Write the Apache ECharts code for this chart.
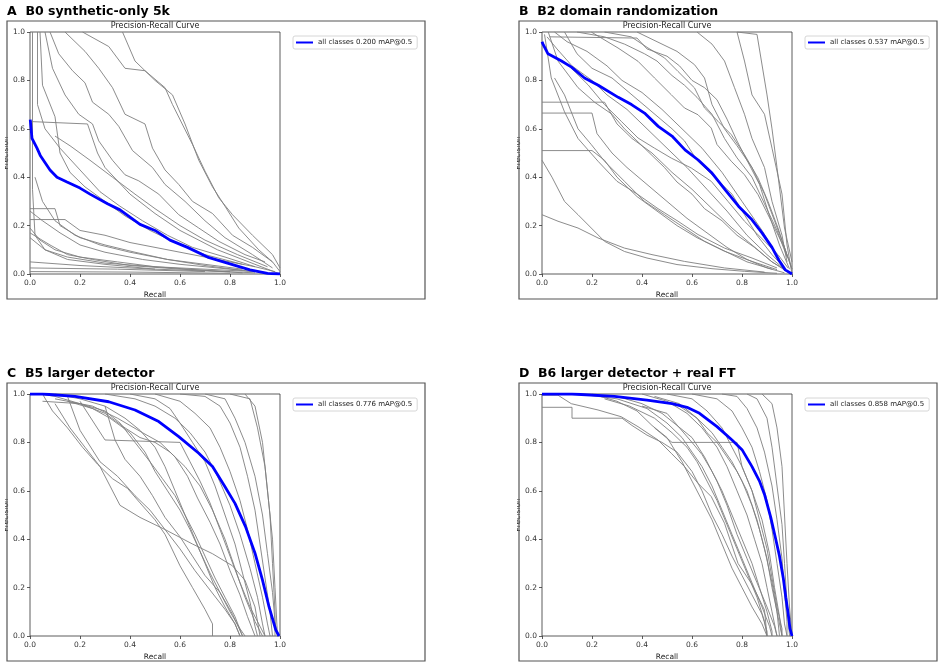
<!DOCTYPE html>
<html>
<head>
<meta charset="utf-8">
<title>Precision-Recall curves</title>
<script src="https://cdn.jsdelivr.net/npm/echarts@6/dist/echarts.min.js"></script>
<style>
  html, body { margin: 0; padding: 0; background: #fff; }
  #main { width: 945px; height: 668px; }
</style>
</head>
<body>
<div id="main"></div>
<script>
// panel titles and mAP values
var panelTitles = ['A  B0 synthetic-only 5k', 'B  B2 domain randomization', 'C  B5 larger detector', 'D  B6 larger detector + real FT'];
var mapValues = ['0.200', '0.537', '0.776', '0.858'];

// mean curve ("all classes") per panel, [recall, precision]
var blueA = [[0.001,0.638],[0.008,0.56],[0.028,0.52],[0.041,0.49],[0.08,0.43],[0.108,0.40],[0.148,0.38],[0.2,0.355],[0.24,0.33],[0.31,0.29],[0.36,0.265],[0.44,0.205],[0.5,0.18],[0.56,0.14],[0.63,0.11],[0.71,0.07],[0.79,0.045],[0.88,0.017],[0.95,0.003],[1.0,0.0]];
var blueB = [[0.0,0.96],[0.004,0.95],[0.024,0.91],[0.078,0.88],[0.118,0.855],[0.17,0.81],[0.225,0.78],[0.305,0.73],[0.358,0.70],[0.41,0.665],[0.465,0.61],[0.52,0.57],[0.572,0.513],[0.626,0.47],[0.68,0.417],[0.733,0.348],[0.786,0.28],[0.84,0.224],[0.88,0.17],[0.92,0.11],[0.947,0.058],[0.973,0.017],[1.0,0.0]];
var blueC = [[0.0,1.0],[0.05,1.0],[0.18,0.99],[0.315,0.968],[0.42,0.934],[0.515,0.886],[0.595,0.824],[0.675,0.755],[0.73,0.70],[0.78,0.617],[0.82,0.548],[0.862,0.452],[0.9,0.342],[0.93,0.231],[0.956,0.121],[0.983,0.025],[0.996,0.0]];
var blueD = [[0.0,1.0],[0.12,1.0],[0.29,0.99],[0.42,0.975],[0.52,0.96],[0.58,0.945],[0.63,0.92],[0.7,0.865],[0.76,0.81],[0.8,0.77],[0.84,0.70],[0.87,0.64],[0.89,0.585],[0.915,0.49],[0.935,0.40],[0.95,0.33],[0.965,0.24],[0.975,0.16],[0.985,0.09],[0.992,0.03],[1.0,0.0]];

// per-class curves (gray)
var grayA = [
  [[0.37,1.0],[0.42,0.88],[0.5,0.8],[0.57,0.74],[0.62,0.62],[0.675,0.47],[0.73,0.36],[0.78,0.28],[0.835,0.19],[0.915,0.10],[0.97,0.05],[1.0,0.01]],
  [[0.21,1.0],[0.315,0.94],[0.38,0.85],[0.46,0.84],[0.54,0.77],[0.57,0.70],[0.65,0.535],[0.70,0.425],[0.755,0.315],[0.81,0.245],[0.89,0.16],[0.97,0.08],[1.0,0.025]],
  [[0.14,1.0],[0.22,0.92],[0.275,0.85],[0.33,0.77],[0.38,0.66],[0.46,0.62],[0.49,0.52],[0.54,0.43],[0.595,0.37],[0.65,0.30],[0.73,0.25],[0.81,0.16],[0.89,0.11],[0.97,0.05]],
  [[0.08,1.0],[0.115,0.91],[0.17,0.84],[0.22,0.79],[0.25,0.71],[0.315,0.66],[0.355,0.61],[0.41,0.51],[0.49,0.44],[0.54,0.37],[0.62,0.30],[0.70,0.22],[0.78,0.15],[0.89,0.08],[0.97,0.025]],
  [[0.06,1.0],[0.09,0.85],[0.14,0.74],[0.195,0.66],[0.25,0.62],[0.275,0.55],[0.33,0.47],[0.38,0.41],[0.435,0.385],[0.515,0.33],[0.595,0.245],[0.675,0.19],[0.755,0.135],[0.86,0.08],[0.94,0.05]],
  [[0.0,0.63],[0.23,0.62],[0.27,0.50],[0.30,0.44],[0.4,0.33],[0.5,0.25],[0.6,0.18],[0.75,0.10],[0.9,0.04],[1.0,0.0]],
  [[0.03,1.0],[0.03,0.70],[0.06,0.60],[0.12,0.52],[0.2,0.43],[0.28,0.34],[0.36,0.28],[0.45,0.22],[0.55,0.16],[0.65,0.11],[0.78,0.07],[0.9,0.03]],
  [[0.0,0.26],[0.05,0.22],[0.12,0.17],[0.2,0.12],[0.3,0.09],[0.45,0.06],[0.6,0.04],[0.8,0.02],[0.95,0.005]],
  [[0.0,0.19],[0.04,0.14],[0.1,0.10],[0.2,0.07],[0.35,0.05],[0.5,0.03],[0.7,0.015],[0.85,0.005]],
  [[0.0,0.17],[0.08,0.12],[0.15,0.08],[0.25,0.06],[0.4,0.035],[0.6,0.02],[0.8,0.01]],
  [[0.0,0.225],[0.14,0.225],[0.2,0.18],[0.3,0.16],[0.4,0.13],[0.5,0.11],[0.6,0.09],[0.7,0.07],[0.8,0.05],[0.9,0.03],[0.98,0.01]],
  [[0.0,0.27],[0.1,0.27],[0.12,0.20],[0.2,0.15],[0.3,0.12],[0.42,0.09],[0.55,0.06],[0.7,0.035],[0.85,0.015]],
  [[0.0,0.025],[0.35,0.02],[0.7,0.01]],
  [[0.0,0.01],[0.4,0.008],[0.8,0.003]],
  [[0.0,0.05],[0.2,0.035],[0.5,0.02],[0.9,0.005]],
  [[0.01,1.0],[0.01,0.35],[0.02,0.16],[0.06,0.1],[0.15,0.06],[0.3,0.04],[0.5,0.02]],
  [[0.04,1.0],[0.05,0.78],[0.1,0.65],[0.12,0.5],[0.16,0.42],[0.22,0.36],[0.3,0.30],[0.38,0.24],[0.48,0.18],[0.58,0.13],[0.7,0.08],[0.85,0.04]],
  [[0.1,0.57],[0.16,0.53],[0.24,0.47],[0.33,0.40],[0.42,0.33],[0.5,0.27],[0.6,0.2],[0.7,0.14],[0.83,0.08],[0.95,0.03]],
  [[0.02,0.4],[0.05,0.3],[0.1,0.22],[0.18,0.16],[0.28,0.12],[0.4,0.09],[0.55,0.06],[0.7,0.04],[0.85,0.02]],
  [[0.0,0.15],[0.06,0.1],[0.15,0.07],[0.3,0.045],[0.5,0.03],[0.7,0.02],[0.9,0.01]]
];
var grayB = [
  [[0.78,1.0],[0.86,0.99],[0.9,0.74],[0.92,0.60],[0.94,0.44],[0.97,0.19],[1.0,0.05]],
  [[0.78,1.0],[0.81,0.88],[0.84,0.74],[0.89,0.66],[0.92,0.52],[0.96,0.33],[0.98,0.12],[1.0,0.0]],
  [[0.62,1.0],[0.68,0.95],[0.73,0.88],[0.77,0.77],[0.81,0.66],[0.84,0.56],[0.89,0.44],[0.92,0.30],[0.96,0.16],[0.98,0.05]],
  [[0.38,1.0],[0.46,0.96],[0.54,0.92],[0.61,0.865],[0.65,0.81],[0.68,0.70],[0.73,0.60],[0.78,0.53],[0.84,0.44],[0.89,0.33],[0.93,0.22],[0.97,0.11],[1.0,0.02]],
  [[0.14,1.0],[0.25,0.98],[0.33,0.95],[0.41,0.91],[0.46,0.88],[0.52,0.82],[0.57,0.78],[0.62,0.73],[0.68,0.66],[0.73,0.56],[0.78,0.48],[0.84,0.40],[0.89,0.29],[0.94,0.18],[0.98,0.07]],
  [[0.09,1.0],[0.14,0.91],[0.20,0.85],[0.28,0.81],[0.36,0.74],[0.44,0.67],[0.52,0.60],[0.57,0.55],[0.62,0.47],[0.69,0.40],[0.76,0.33],[0.81,0.245],[0.86,0.16],[0.92,0.08],[0.97,0.025]],
  [[0.025,1.0],[0.064,0.88],[0.144,0.77],[0.21,0.71],[0.28,0.66],[0.33,0.60],[0.38,0.55],[0.44,0.49],[0.49,0.44],[0.54,0.38],[0.6,0.33],[0.65,0.27],[0.72,0.22],[0.78,0.16],[0.85,0.11],[0.92,0.05],[0.97,0.02]],
  [[0.0,0.665],[0.2,0.665],[0.22,0.58],[0.28,0.5],[0.34,0.44],[0.42,0.37],[0.5,0.30],[0.58,0.23],[0.66,0.17],[0.74,0.11],[0.82,0.06],[0.9,0.025],[0.97,0.005]],
  [[0.0,0.51],[0.2,0.51],[0.25,0.47],[0.3,0.40],[0.38,0.32],[0.46,0.26],[0.54,0.2],[0.62,0.15],[0.72,0.1],[0.82,0.05],[0.92,0.02]],
  [[0.0,0.71],[0.25,0.71],[0.3,0.62],[0.36,0.56],[0.44,0.5],[0.52,0.42],[0.6,0.35],[0.68,0.27],[0.76,0.19],[0.84,0.12],[0.92,0.05],[0.98,0.01]],
  [[0.0,0.47],[0.04,0.40],[0.09,0.30],[0.144,0.245],[0.197,0.19],[0.25,0.135],[0.33,0.093],[0.42,0.066],[0.54,0.039],[0.68,0.022],[0.81,0.011],[0.94,0.003]],
  [[0.0,0.245],[0.064,0.218],[0.144,0.19],[0.224,0.149],[0.33,0.107],[0.44,0.08],[0.57,0.052],[0.73,0.025],[0.89,0.008]],
  [[0.05,0.81],[0.09,0.74],[0.144,0.60],[0.197,0.535],[0.25,0.466],[0.33,0.383],[0.41,0.30],[0.49,0.245],[0.57,0.19],[0.65,0.135],[0.73,0.094],[0.84,0.052],[0.94,0.018]],
  [[0.01,0.99],[0.037,0.81],[0.09,0.67],[0.144,0.56],[0.224,0.466],[0.30,0.383],[0.384,0.328],[0.464,0.27],[0.544,0.218],[0.624,0.163],[0.73,0.107],[0.84,0.066],[0.94,0.025]],
  [[0.197,1.0],[0.304,0.934],[0.384,0.879],[0.45,0.81],[0.517,0.741],[0.57,0.686],[0.624,0.658],[0.677,0.603],[0.70,0.535],[0.757,0.466],[0.81,0.41],[0.864,0.328],[0.917,0.218],[0.97,0.107],[1.0,0.02]],
  [[0.25,1.0],[0.357,0.98],[0.424,0.934],[0.49,0.893],[0.544,0.837],[0.61,0.769],[0.65,0.686],[0.704,0.631],[0.757,0.576],[0.81,0.493],[0.864,0.397],[0.904,0.30],[0.944,0.19],[0.984,0.066]],
  [[0.117,0.851],[0.184,0.782],[0.25,0.70],[0.317,0.631],[0.384,0.562],[0.45,0.52],[0.517,0.479],[0.597,0.438],[0.677,0.383],[0.744,0.30],[0.81,0.218],[0.877,0.149],[0.944,0.08],[0.984,0.025]],
  [[0.03,0.98],[0.38,0.975],[0.42,0.93],[0.5,0.90],[0.55,0.86],[0.6,0.80],[0.65,0.77],[0.7,0.72],[0.74,0.64],[0.78,0.55],[0.82,0.47],[0.87,0.37],[0.91,0.24],[0.95,0.12],[0.99,0.02]],
  [[0.05,1.0],[0.1,0.96],[0.18,0.92],[0.26,0.86],[0.32,0.8],[0.4,0.75],[0.48,0.68],[0.56,0.6],[0.64,0.52],[0.72,0.42],[0.8,0.3],[0.88,0.18],[0.95,0.06]],
  [[0.02,0.98],[0.06,0.93],[0.12,0.86],[0.2,0.8],[0.26,0.74],[0.34,0.68],[0.42,0.6],[0.5,0.52],[0.58,0.44],[0.66,0.35],[0.74,0.26],[0.82,0.16],[0.9,0.08],[0.97,0.02]]
];
var grayC = [
  [[0.05,1.0],[0.09,0.93],[0.15,0.86],[0.21,0.78],[0.27,0.71],[0.33,0.65],[0.39,0.61],[0.44,0.55],[0.50,0.48],[0.54,0.42],[0.6,0.29],[0.65,0.2],[0.7,0.11],[0.73,0.05],[0.73,0.0]],
  [[0.15,0.99],[0.2,0.85],[0.28,0.72],[0.35,0.66],[0.42,0.58],[0.48,0.52],[0.54,0.44],[0.6,0.36],[0.66,0.27],[0.72,0.19],[0.78,0.11],[0.82,0.05],[0.84,0.0]],
  [[0.1,0.96],[0.16,0.86],[0.22,0.78],[0.28,0.70],[0.32,0.62],[0.36,0.54],[0.44,0.49],[0.54,0.44],[0.65,0.38],[0.73,0.34],[0.81,0.29],[0.86,0.23],[0.9,0.12],[0.92,0.0]],
  [[0.04,1.0],[0.1,0.99],[0.2,0.96],[0.3,0.92],[0.38,0.86],[0.44,0.82],[0.5,0.80],[0.56,0.76],[0.62,0.70],[0.68,0.62],[0.73,0.52],[0.78,0.40],[0.82,0.28],[0.86,0.16],[0.9,0.06],[0.93,0.0]],
  [[0.05,0.97],[0.2,0.96],[0.3,0.93],[0.36,0.88],[0.42,0.80],[0.48,0.72],[0.53,0.65],[0.58,0.58],[0.62,0.50],[0.66,0.42],[0.7,0.33],[0.74,0.24],[0.78,0.16],[0.82,0.08],[0.85,0.0]],
  [[0.1,0.98],[0.25,0.95],[0.35,0.90],[0.45,0.84],[0.52,0.80],[0.58,0.74],[0.63,0.66],[0.67,0.57],[0.72,0.47],[0.76,0.38],[0.8,0.27],[0.84,0.17],[0.87,0.08],[0.9,0.0]],
  [[0.2,0.97],[0.3,0.81],[0.6,0.80],[0.64,0.72],[0.68,0.64],[0.72,0.55],[0.76,0.44],[0.8,0.33],[0.84,0.22],[0.88,0.12],[0.92,0.04],[0.94,0.0]],
  [[0.6,1.0],[0.7,0.99],[0.76,0.95],[0.8,0.88],[0.84,0.78],[0.87,0.66],[0.9,0.52],[0.92,0.38],[0.94,0.24],[0.96,0.1],[0.97,0.0]],
  [[0.7,1.0],[0.78,0.98],[0.82,0.9],[0.86,0.8],[0.9,0.66],[0.93,0.5],[0.95,0.34],[0.97,0.18],[0.98,0.06],[0.99,0.0]],
  [[0.5,1.0],[0.6,0.97],[0.66,0.92],[0.72,0.86],[0.76,0.78],[0.8,0.68],[0.84,0.56],[0.87,0.44],[0.9,0.3],[0.93,0.16],[0.95,0.05],[0.96,0.0]],
  [[0.3,1.0],[0.42,0.98],[0.5,0.95],[0.58,0.9],[0.64,0.84],[0.7,0.76],[0.75,0.66],[0.8,0.54],[0.84,0.42],[0.88,0.28],[0.91,0.16],[0.93,0.05],[0.94,0.0]],
  [[0.1,1.0],[0.2,0.98],[0.3,0.95],[0.38,0.9],[0.44,0.85],[0.5,0.78],[0.54,0.7],[0.58,0.6],[0.62,0.5],[0.66,0.4],[0.7,0.3],[0.74,0.2],[0.78,0.12],[0.82,0.05],[0.84,0.0]],
  [[0.15,0.97],[0.25,0.94],[0.32,0.9],[0.4,0.84],[0.46,0.76],[0.5,0.68],[0.55,0.6],[0.6,0.52],[0.64,0.44],[0.68,0.35],[0.72,0.26],[0.76,0.18],[0.8,0.1],[0.84,0.03],[0.86,0.0]],
  [[0.86,1.0],[0.9,0.95],[0.93,0.8],[0.95,0.6],[0.97,0.4],[0.98,0.2],[0.99,0.0]],
  [[0.8,1.0],[0.88,0.98],[0.91,0.86],[0.94,0.7],[0.96,0.5],[0.97,0.3],[0.98,0.1],[0.98,0.0]],
  [[0.3,0.95],[0.34,0.81],[0.38,0.73],[0.44,0.66],[0.49,0.58],[0.54,0.49],[0.6,0.41],[0.65,0.33],[0.7,0.25],[0.76,0.18],[0.81,0.09],[0.85,0.0]],
  [[0.4,1.0],[0.5,0.98],[0.56,0.94],[0.6,0.88],[0.65,0.8],[0.7,0.72],[0.74,0.62],[0.78,0.5],[0.82,0.38],[0.85,0.26],[0.88,0.14],[0.9,0.04],[0.91,0.0]]
];
var grayD = [
  [[0.0,0.995],[0.064,0.995],[0.117,0.96],[0.224,0.934],[0.317,0.906],[0.384,0.865],[0.464,0.81],[0.517,0.755],[0.57,0.70],[0.624,0.631],[0.677,0.576],[0.704,0.52],[0.73,0.466],[0.757,0.383],[0.784,0.30],[0.837,0.218],[0.864,0.163],[0.89,0.107],[0.9,0.0]],
  [[0.0,0.945],[0.12,0.945],[0.12,0.9],[0.32,0.9],[0.36,0.87],[0.42,0.83],[0.48,0.8],[0.54,0.76],[0.6,0.68],[0.64,0.6],[0.68,0.5],[0.72,0.42],[0.76,0.33],[0.8,0.25],[0.84,0.17],[0.88,0.09],[0.9,0.02],[0.9,0.0]],
  [[0.2,1.0],[0.3,0.97],[0.38,0.93],[0.44,0.87],[0.5,0.82],[0.56,0.72],[0.6,0.64],[0.64,0.56],[0.68,0.48],[0.72,0.38],[0.76,0.28],[0.8,0.2],[0.84,0.12],[0.88,0.05],[0.9,0.0]],
  [[0.3,0.99],[0.4,0.96],[0.48,0.92],[0.54,0.87],[0.6,0.82],[0.65,0.74],[0.7,0.64],[0.74,0.54],[0.78,0.42],[0.82,0.32],[0.86,0.22],[0.9,0.12],[0.93,0.04],[0.94,0.0]],
  [[0.4,1.0],[0.5,0.97],[0.58,0.92],[0.64,0.86],[0.7,0.78],[0.74,0.7],[0.78,0.6],[0.82,0.5],[0.85,0.4],[0.88,0.3],[0.9,0.2],[0.92,0.1],[0.94,0.0]],
  [[0.5,1.0],[0.6,0.98],[0.66,0.93],[0.72,0.86],[0.76,0.78],[0.8,0.7],[0.84,0.6],[0.87,0.48],[0.9,0.36],[0.92,0.24],[0.94,0.12],[0.96,0.03],[0.96,0.0]],
  [[0.6,1.0],[0.7,0.98],[0.76,0.93],[0.8,0.86],[0.84,0.78],[0.87,0.68],[0.9,0.56],[0.92,0.44],[0.94,0.3],[0.96,0.16],[0.97,0.05],[0.98,0.0]],
  [[0.72,1.0],[0.78,0.99],[0.82,0.94],[0.86,0.86],[0.89,0.76],[0.92,0.62],[0.94,0.48],[0.96,0.32],[0.97,0.18],[0.98,0.06],[0.98,0.0]],
  [[0.82,1.0],[0.86,0.98],[0.9,0.9],[0.92,0.78],[0.94,0.62],[0.96,0.46],[0.97,0.3],[0.98,0.14],[0.99,0.0]],
  [[0.88,1.0],[0.92,0.96],[0.94,0.86],[0.96,0.7],[0.97,0.5],[0.98,0.3],[0.99,0.12],[1.0,0.0]],
  [[0.25,0.98],[0.35,0.95],[0.45,0.9],[0.52,0.84],[0.58,0.78],[0.62,0.72],[0.66,0.64],[0.7,0.56],[0.74,0.46],[0.78,0.36],[0.82,0.26],[0.86,0.16],[0.89,0.06],[0.9,0.0]],
  [[0.4,0.95],[0.5,0.92],[0.55,0.86],[0.6,0.8],[0.64,0.75],[0.68,0.68],[0.72,0.6],[0.76,0.5],[0.8,0.4],[0.84,0.3],[0.87,0.2],[0.9,0.1],[0.92,0.02],[0.92,0.0]],
  [[0.55,0.95],[0.62,0.9],[0.68,0.84],[0.72,0.78],[0.76,0.72],[0.8,0.64],[0.84,0.54],[0.87,0.44],[0.9,0.32],[0.92,0.2],[0.94,0.1],[0.95,0.0]],
  [[0.15,1.0],[0.3,0.98],[0.42,0.94],[0.5,0.88],[0.56,0.82],[0.6,0.76],[0.64,0.7],[0.68,0.62],[0.72,0.52],[0.76,0.42],[0.8,0.32],[0.84,0.22],[0.88,0.12],[0.91,0.04],[0.92,0.0]],
  [[0.45,0.99],[0.55,0.96],[0.62,0.9],[0.66,0.84],[0.7,0.8],[0.74,0.74],[0.78,0.68],[0.82,0.6],[0.86,0.48],[0.89,0.36],[0.92,0.22],[0.94,0.1],[0.96,0.0]],
  [[0.45,0.86],[0.52,0.8],[0.78,0.8],[0.8,0.7],[0.84,0.6],[0.88,0.48],[0.91,0.34],[0.93,0.2],[0.95,0.08],[0.96,0.0]]
];

var blues = [blueA, blueB, blueC, blueD];
var grays = [grayA, grayB, grayC, grayD];

var FONT = 'DejaVu Sans';
var chart = echarts.init(document.getElementById('main'));
var options = {
  backgroundColor: '#fff',
  animation: false,
  textStyle: { fontFamily: FONT },
  grid: [], xAxis: [], yAxis: [], legend: [], series: [], graphic: []
};

function fmt(v) { return v.toFixed(1); }

// note: no global "top"/"name" here, window.top can't be overwritten
function addPanel(i) {
  var ox = (i % 2) * 512, oy = Math.floor(i / 2) * 362;
  var gLeft = 30 + ox, gTop = 32 + oy;
  var meanName = 'all classes ' + mapValues[i] + ' mAP@0.5';

  options.grid.push({
    left: gLeft, top: gTop, width: 250, height: 242,
    show: true, borderColor: '#333', borderWidth: 0.8,
    outerBoundsMode: 'none', containLabel: false
  });
  options.xAxis.push({
    gridIndex: i, type: 'value', min: 0, max: 1, interval: 0.2,
    axisLine: { show: false },
    axisTick: { show: true, length: 3, lineStyle: { color: '#333', width: 0.8 } },
    axisLabel: { fontSize: 7.5, color: '#333', margin: 5, formatter: fmt, showMinLabel: true, showMaxLabel: true },
    splitLine: { show: false },
    name: 'Recall', nameLocation: 'middle', nameGap: 17,
    nameTextStyle: { fontSize: 7.5, color: '#222' }
  });
  options.yAxis.push({
    gridIndex: i, type: 'value', min: 0, max: 1, interval: 0.2,
    axisLine: { show: false },
    axisTick: { show: true, length: 3, lineStyle: { color: '#333', width: 0.8 } },
    axisLabel: { fontSize: 7.5, color: '#333', margin: 5, formatter: fmt, showMinLabel: true, showMaxLabel: true },
    splitLine: { show: false }
  });
  options.legend.push({
    data: [meanName], left: 293 + ox, top: 36 + oy, orient: 'vertical',
    icon: 'rect', itemWidth: 17, itemHeight: 2, itemGap: 0,
    padding: [3, 5, 3, 3], selectedMode: false,
    textStyle: { fontSize: 7, color: '#222', fontFamily: FONT },
    borderColor: '#ccc', borderWidth: 0.8, borderRadius: 2, backgroundColor: '#fff'
  });

  grays[i].forEach(function (curve) {
    options.series.push({
      type: 'line', xAxisIndex: i, yAxisIndex: i, data: curve,
      symbol: 'none', silent: true, z: 2,
      lineStyle: { color: '#808080', width: 1, opacity: 0.9 }
    });
  });
  options.series.push({
    name: meanName, type: 'line', xAxisIndex: i, yAxisIndex: i, data: blues[i],
    symbol: 'none', z: 3,
    lineStyle: { color: '#0000ff', width: 2.8 }, itemStyle: { color: '#0000ff' }
  });

  // texts and panel frame
  options.graphic.push(
    { type: 'text', x: 7 + ox, y: 11.5 + oy,
      style: { text: panelTitles[i], fontSize: 12.5, fontWeight: 'bold', fontFamily: FONT, fill: '#000',
               textAlign: 'left', textVerticalAlign: 'middle' } },
    { type: 'text', x: 155 + ox, y: 25.5 + oy,
      style: { text: 'Precision-Recall Curve', fontSize: 8, fontFamily: FONT, fill: '#222',
               textAlign: 'center', textVerticalAlign: 'middle' } },
    { type: 'text', x: 10 + ox, y: 153 + oy, rotation: Math.PI / 2,
      style: { text: 'Precision', fontSize: 7.5, fontFamily: FONT, fill: '#222',
               textAlign: 'center', textVerticalAlign: 'bottom' } },
    { type: 'rect', shape: { x: ox, y: 120 + oy, width: 5, height: 70 },
      style: { fill: '#fff', stroke: null } },
    { type: 'rect', shape: { x: 7 + ox, y: 21 + oy, width: 418, height: 278 },
      style: { fill: 'transparent', stroke: '#555', lineWidth: 1.2 } }
  );
}

for (var p = 0; p < 4; p++) addPanel(p);

chart.setOption(options);
</script>
</body>
</html>
